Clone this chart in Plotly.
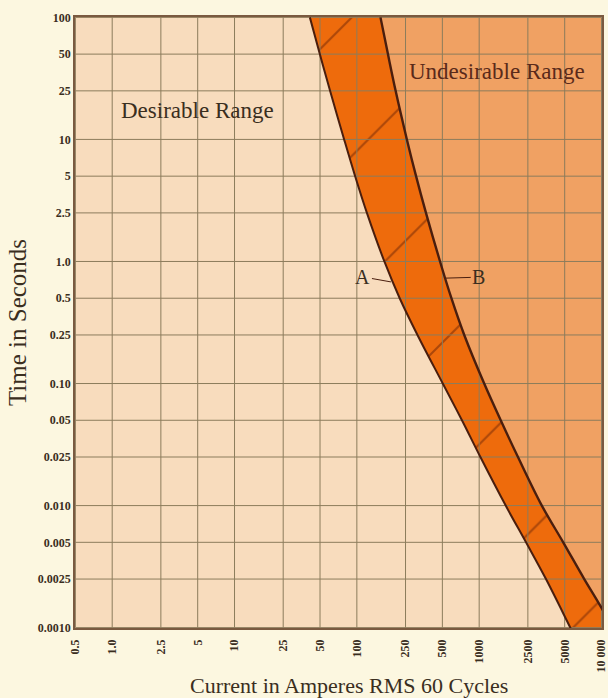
import plotly.graph_objects as go
import math

# ---- data ----
x_ticks = [0.5, 1.0, 2.5, 5, 10, 25, 50, 100, 250, 500, 1000, 2500, 5000, 10000]
x_labels = ["0.5", "1.0", "2.5", "5", "10", "25", "50", "100", "250", "500",
            "1000", "2500", "5000", "10 000"]
y_ticks = [100, 50, 25, 10, 5, 2.5, 1.0, 0.5, 0.25, 0.10, 0.05, 0.025, 0.010,
           0.005, 0.0025, 0.0010]
y_labels = ["100", "50", "25", "10", "5", "2.5", "1.0", "0.5", "0.25", "0.10",
            "0.05", "0.025", "0.010", "0.005", "0.0025", "0.0010"]

# curve A (lower limit of the band): current (A) at given times (s)
a_current = [41.3, 49.8, 60.4, 78.7, 96.8, 120.8, 167.9, 224, 313, 504, 723, 1023,
             1648, 2415, 3516, 5560, 6220]
a_time = [100, 50, 25, 10, 5, 2.5, 1.0, 0.5, 0.25, 0.10, 0.05, 0.025, 0.010,
          0.005, 0.0025, 0.0010, 0.0008]
# curve B (upper limit of the band)
b_current = [156, 179.5, 207.5, 256.4, 304.8, 367.3, 478.6, 592.9, 755, 1099, 1500,
             2075, 3251, 4864, 7228, 10000, 16000]
b_time = [100, 50, 25, 10, 5, 2.5, 1.0, 0.5, 0.25, 0.10, 0.05, 0.025, 0.010,
          0.005, 0.0025, 0.00145, 0.0006]

X_MIN, X_MAX = x_ticks[0], x_ticks[-1]
Y_MIN, Y_MAX = y_ticks[-1], y_ticks[0]

# ---- styling ----
PAGE = "#FCF7E0"
DESIRABLE = "#F8DCBD"
BAND = "#EE6B0C"
UNDESIRABLE = "#F0A163"
GRID = "#8C7C5C"
CURVE = "#4A1E0E"
TEXT = "#3A2E1E"
SERIF = "Liberation Serif"

fig = go.Figure()

# left edge helper (invisible) -> desirable fill up to curve A
fig.add_trace(go.Scatter(x=[X_MIN * 0.9] * len(a_time), y=a_time, mode="lines",
                         line=dict(width=0), hoverinfo="skip", showlegend=False))
fig.add_trace(go.Scatter(x=a_current, y=a_time, mode="lines",
                         line=dict(width=0, shape="spline"),
                         fill="tonextx", fillcolor=DESIRABLE, hoverinfo="skip",
                         showlegend=False))
# band between A and B, hatched
fig.add_trace(go.Scatter(x=b_current, y=b_time, mode="lines",
                         line=dict(width=0, shape="spline"),
                         fill="tonextx", fillcolor=BAND,
                         fillpattern=dict(shape="/", fgcolor="#6A2406", bgcolor=BAND,
                                          size=98, solidity=0.022),
                         hoverinfo="skip", showlegend=False))

# grid lines drawn over the fills
gx, gy = [], []
for t in x_ticks:
    gx += [t, t, None]
    gy += [Y_MIN, Y_MAX, None]
for t in y_ticks:
    gx += [X_MIN, X_MAX, None]
    gy += [t, t, None]
fig.add_trace(go.Scatter(x=gx, y=gy, mode="lines", line=dict(color=GRID, width=1),
                         hoverinfo="skip", showlegend=False, connectgaps=False))

# boundary curves
fig.add_trace(go.Scatter(x=a_current, y=a_time, mode="lines",
                         line=dict(color=CURVE, width=2, shape="spline"),
                         hoverinfo="skip", showlegend=False))
fig.add_trace(go.Scatter(x=b_current, y=b_time, mode="lines",
                         line=dict(color=CURVE, width=2.4, shape="spline"),
                         hoverinfo="skip", showlegend=False))

annotations = [
    dict(x=math.log10(5), y=math.log10(17.3), text="Desirable Range", showarrow=False,
         font=dict(family=SERIF, size=23, color=TEXT)),
    dict(x=math.log10(1390), y=math.log10(36), text="Undesirable Range", showarrow=False,
         font=dict(family=SERIF, size=23, color="#5A2A1A")),
    dict(x=math.log10(190), y=math.log10(0.68), text="A", showarrow=True, arrowhead=0,
         arrowwidth=1, arrowcolor=CURVE, ax=-28, ay=-5,
         font=dict(family=SERIF, size=20, color=TEXT)),
    dict(x=math.log10(523), y=math.log10(0.73), text="B", showarrow=True, arrowhead=0,
         arrowwidth=1, arrowcolor=CURVE, ax=34, ay=-1,
         font=dict(family=SERIF, size=20, color=TEXT)),
    dict(xref="paper", yref="paper", x=0.52, y=-0.094, yanchor="middle",
         text="Current in Amperes RMS 60 Cycles", showarrow=False,
         font=dict(family=SERIF, size=22, color=TEXT)),
]

fig.update_layout(
    width=608, height=698,
    margin=dict(l=75, r=6, t=17, b=70),
    paper_bgcolor=PAGE,
    plot_bgcolor=UNDESIRABLE,
    annotations=annotations,
    xaxis=dict(type="log",
               range=[math.log10(X_MIN) - 0.003, math.log10(X_MAX) + 0.004],
               tickvals=x_ticks, ticktext=x_labels, tickangle=-90, automargin=False,
               ticklabeloverflow="allow",
               tickfont=dict(family=SERIF, size=12, color=TEXT, weight="bold"),
               showgrid=False, zeroline=False, ticks="", ticklabelstandoff=5,
               showline=True, mirror=True, linecolor="#7A5A40", linewidth=1.5),
    yaxis=dict(type="log",
               range=[math.log10(Y_MIN) - 0.003, math.log10(Y_MAX) + 0.003],
               tickvals=y_ticks, ticktext=y_labels, automargin=False,
               ticklabeloverflow="allow",
               tickfont=dict(family=SERIF, size=12, color=TEXT, weight="bold"),
               showgrid=False, zeroline=False, ticks="", ticklabelstandoff=0,
               showline=True, mirror=True, linecolor="#7A5A40", linewidth=1.5,
               title=dict(text="Time in Seconds", standoff=4,
                          font=dict(family=SERIF, size=25, color=TEXT))),
)

fig.write_html("out.html", config={"displayModeBar": False},
               post_script="document.body.style.margin='0';"
                           "document.body.style.background='" + PAGE + "';")
